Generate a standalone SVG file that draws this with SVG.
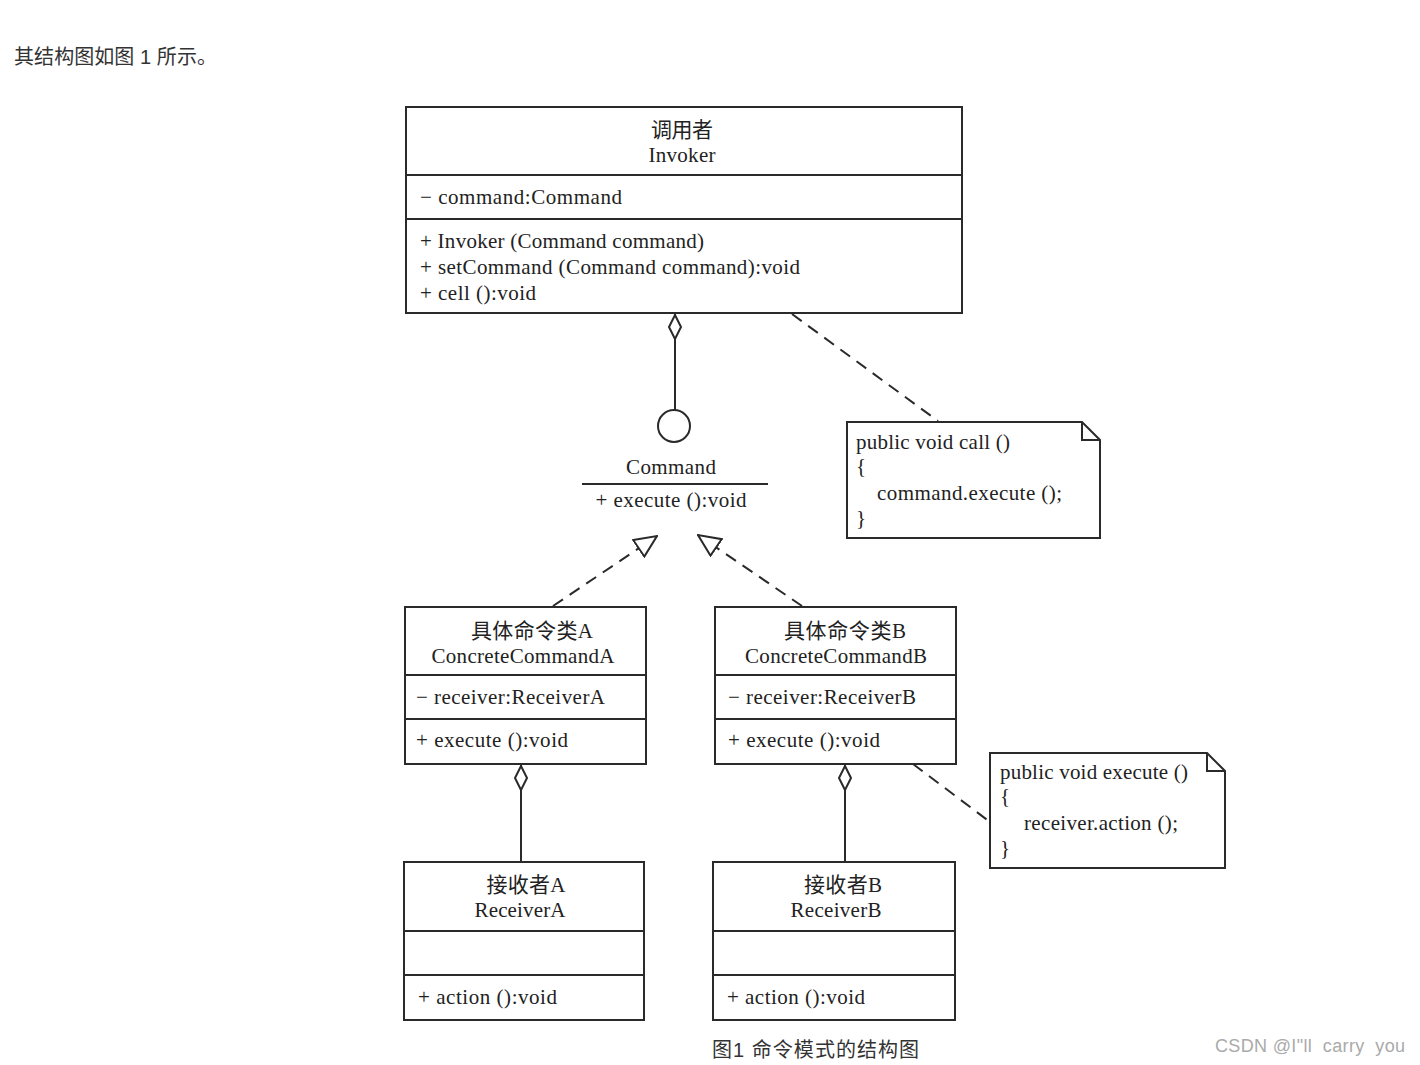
<svg xmlns="http://www.w3.org/2000/svg" width="1420" height="1065" viewBox="0 0 1420 1065">
<style>
.box{fill:#fff;stroke:#2a2a2a;stroke-width:2}
.ln{stroke:#2a2a2a;stroke-width:2;fill:none}
.dash{stroke:#2a2a2a;stroke-width:2;fill:none;stroke-dasharray:12,8}
.t{font-family:"Liberation Serif","Noto Sans CJK SC",serif;font-size:21px;fill:#222}
.c{text-anchor:middle}
.page{font-family:"Liberation Sans","Noto Sans CJK SC",sans-serif;font-size:20px;fill:#333}
</style>
<defs>
<marker id="dia" viewBox="0 0 26 14" refX="0" refY="7" markerWidth="26" markerHeight="14" markerUnits="userSpaceOnUse" orient="auto">
<path d="M1,7 L13,1 L25,7 L13,13 Z" fill="#fff" stroke="#2a2a2a" stroke-width="2"/>
</marker>
<marker id="tri" viewBox="0 0 24 22" refX="23" refY="11" markerWidth="24" markerHeight="22" markerUnits="userSpaceOnUse" orient="auto">
<path d="M1,1 L23,11 L1,21 Z" fill="#fff" stroke="#2a2a2a" stroke-width="2"/>
</marker>
</defs>
<text class="page" x="14" y="64" textLength="203">其结构图如图 1 所示。</text>

<g id="connectors">
<line class="ln" x1="675" y1="314" x2="675" y2="410" marker-start="url(#dia)"/>
<line class="dash" x1="792" y1="314" x2="938" y2="421"/>
<line class="dash" x1="553" y1="606" x2="657" y2="536" marker-end="url(#tri)"/>
<line class="dash" x1="802" y1="606" x2="698" y2="535" marker-end="url(#tri)"/>
<line class="ln" x1="521" y1="765" x2="521" y2="862" marker-start="url(#dia)"/>
<line class="ln" x1="845" y1="765" x2="845" y2="862" marker-start="url(#dia)"/>
<line class="dash" x1="913" y1="764" x2="990" y2="822"/>
</g>

<g id="invoker">
<rect class="box" x="406" y="107" width="556" height="206"/>
<line class="ln" x1="406" y1="175" x2="962" y2="175"/>
<line class="ln" x1="406" y1="219" x2="962" y2="219"/>
<text class="t c" x="682" y="137" textLength="62">调用者</text>
<text class="t c" x="682" y="162" textLength="67">Invoker</text>
<text class="t" x="420" y="204" textLength="202">− command:Command</text>
<text class="t" x="420" y="248" textLength="284">+ Invoker (Command command)</text>
<text class="t" x="420" y="274" textLength="380">+ setCommand (Command command):void</text>
<text class="t" x="420" y="300" textLength="116">+ cell ():void</text>
</g>

<g id="command">
<circle class="box" cx="674" cy="426" r="16"/>
<text class="t c" x="671" y="474" textLength="90">Command</text>
<line class="ln" x1="582" y1="484" x2="768" y2="484"/>
<text class="t c" x="671" y="507" textLength="151">+ execute ():void</text>
</g>

<g id="note1">
<path class="box" d="M847,422 L1082,422 L1100,440 L1100,538 L847,538 Z"/>
<path class="ln" d="M1082,422 L1082,440 L1100,440"/>
<text class="t" x="856" y="449" textLength="154">public void call ()</text>
<text class="t" x="856" y="473">{</text>
<text class="t" x="877" y="500" textLength="185">command.execute ();</text>
<text class="t" x="856" y="525">}</text>
</g>

<g id="concreteA">
<rect class="box" x="405" y="607" width="241" height="157"/>
<line class="ln" x1="405" y1="675" x2="646" y2="675"/>
<line class="ln" x1="405" y1="719" x2="646" y2="719"/>
<text class="t c" x="532" y="638" textLength="122">具体命令类A</text>
<text class="t c" x="523" y="663" textLength="183">ConcreteCommandA</text>
<text class="t" x="416" y="704" textLength="189">− receiver:ReceiverA</text>
<text class="t" x="416" y="747" textLength="152">+ execute ():void</text>
</g>

<g id="concreteB">
<rect class="box" x="715" y="607" width="241" height="157"/>
<line class="ln" x1="715" y1="675" x2="956" y2="675"/>
<line class="ln" x1="715" y1="719" x2="956" y2="719"/>
<text class="t c" x="845" y="638" textLength="122">具体命令类B</text>
<text class="t c" x="836" y="663" textLength="182">ConcreteCommandB</text>
<text class="t" x="728" y="704" textLength="188">− receiver:ReceiverB</text>
<text class="t" x="728" y="747" textLength="152">+ execute ():void</text>
</g>

<g id="note2">
<path class="box" d="M990,753 L1207,753 L1225,771 L1225,868 L990,868 Z"/>
<path class="ln" d="M1207,753 L1207,771 L1225,771"/>
<text class="t" x="1000" y="779" textLength="188">public void execute ()</text>
<text class="t" x="1000" y="803">{</text>
<text class="t" x="1024" y="830" textLength="154">receiver.action ();</text>
<text class="t" x="1000" y="855">}</text>
</g>

<g id="receiverA">
<rect class="box" x="404" y="862" width="240" height="158"/>
<line class="ln" x1="404" y1="931" x2="644" y2="931"/>
<line class="ln" x1="404" y1="975" x2="644" y2="975"/>
<text class="t c" x="526" y="892" textLength="79">接收者A</text>
<text class="t c" x="520" y="917" textLength="91">ReceiverA</text>
<text class="t" x="418" y="1004" textLength="139">+ action ():void</text>
</g>

<g id="receiverB">
<rect class="box" x="713" y="862" width="242" height="158"/>
<line class="ln" x1="713" y1="931" x2="955" y2="931"/>
<line class="ln" x1="713" y1="975" x2="955" y2="975"/>
<text class="t c" x="843" y="892" textLength="78">接收者B</text>
<text class="t c" x="836" y="917" textLength="91">ReceiverB</text>
<text class="t" x="727" y="1004" textLength="138">+ action ():void</text>
</g>

<text class="page" x="712" y="1057" textLength="207">图1 命令模式的结构图</text>
<text x="1215" y="1052" textLength="190" style="font-family:'Liberation Sans',sans-serif;font-size:18px;fill:#aaa;white-space:pre">CSDN @I"ll  carry  you</text>
</svg>
